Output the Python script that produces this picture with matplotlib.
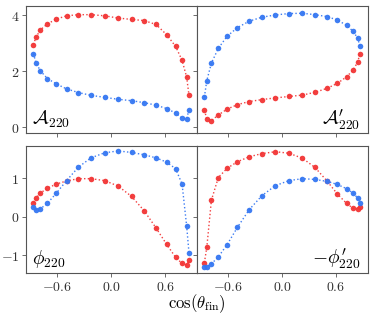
import matplotlib
matplotlib.use("Agg")
import matplotlib.pyplot as plt
from matplotlib.ticker import FuncFormatter

plt.rcParams['mathtext.fontset'] = 'cm'
plt.rcParams['font.family'] = 'DejaVu Serif'

# cos(theta_fin) sample points
cos_fin = [-0.864, -0.837, -0.786, -0.709, -0.611, -0.496, -0.364, -0.224, -0.074,
           0.076, 0.226, 0.366, 0.499, 0.615, 0.716, 0.788, 0.839, 0.865]

# amplitude A_220
amp_red = [2.95, 3.21, 3.48, 3.69, 3.86, 3.98, 4.02, 4.02, 3.98,
           3.90, 3.85, 3.81, 3.67, 3.31, 2.89, 2.39, 1.79, 1.14]
amp_blue = [2.63, 2.31, 2.01, 1.74, 1.55, 1.37, 1.24, 1.14, 1.07,
            1.00, 0.95, 0.88, 0.79, 0.67, 0.51, 0.33, 0.30, 0.63]

# amplitude A'_220
ampp_red = [0.61, 0.30, 0.24, 0.44, 0.65, 0.81, 0.92, 0.99, 1.05,
            1.10, 1.15, 1.25, 1.39, 1.57, 1.80, 2.04, 2.32, 2.62]
ampp_blue = [1.08, 1.67, 2.29, 2.82, 3.25, 3.56, 3.79, 3.93, 4.01,
             4.06, 4.07, 4.02, 3.95, 3.83, 3.64, 3.43, 3.19, 2.90]

# phase phi_220
phi_red = [0.36, 0.48, 0.62, 0.74, 0.85, 0.93, 0.99, 0.99, 0.94,
           0.80, 0.53, 0.16, -0.29, -0.71, -1.05, -1.21, -1.25, -1.13]
phi_blue = [0.26, 0.18, 0.21, 0.35, 0.61, 0.94, 1.29, 1.53, 1.66,
            1.71, 1.67, 1.61, 1.53, 1.42, 1.25, 0.85, -0.24, -0.94]

# phase -phi'_220
phip_red = [-1.19, -0.79, 0.43, 1.02, 1.26, 1.43, 1.56, 1.64, 1.69,
            1.65, 1.52, 1.28, 0.93, 0.59, 0.35, 0.22, 0.21, 0.26]
phip_blue = [-1.29, -1.29, -1.22, -1.04, -0.72, -0.27, 0.19, 0.55, 0.81,
             0.94, 0.99, 0.97, 0.92, 0.84, 0.73, 0.62, 0.49, 0.36]

red = '#f23535'
blue = '#3577f2'
spine_col = '#555555'

fig, axes = plt.subplots(2, 2, figsize=(3.74, 3.15), dpi=100, sharex=True, sharey='row')
fig.subplots_adjust(left=0.07, right=0.984, top=0.981, bottom=0.133, hspace=0.1, wspace=0)

panels = [
    (axes[0, 0], amp_red, amp_blue, r'$\mathcal{A}_{220}$', 'left'),
    (axes[0, 1], ampp_red, ampp_blue, r"$\mathcal{A}^{\prime}_{220}$", 'right'),
    (axes[1, 0], phi_red, phi_blue, r'$\phi_{220}$', 'left'),
    (axes[1, 1], phip_red, phip_blue, r"$-\phi^{\prime}_{220}$", 'right'),
]

math_fmt = FuncFormatter(lambda v, p: r'$%g$' % v if v == int(v) else r'$%.1f$' % v)
x_fmt = FuncFormatter(lambda v, p: r'$%.1f$' % v)

for ax, yr, yb, label, side in panels:
    ax.plot(cos_fin, yr, ':', color=red, lw=1.0, marker='o', ms=4, mec='none', alpha=0.95)
    ax.plot(cos_fin, yb, ':', color=blue, lw=1.0, marker='o', ms=4, mec='none', alpha=0.95)
    if side == 'left':
        ax.text(0.035, 0.07, label, transform=ax.transAxes, fontsize=14, ha='left', va='baseline')
    else:
        ax.text(0.955, 0.07, label, transform=ax.transAxes, fontsize=14, ha='right', va='baseline')
    for s in ax.spines.values():
        s.set_color(spine_col)
        s.set_linewidth(0.8)
    ax.tick_params(direction='out', length=3, width=0.6, color=spine_col,
                   labelsize=10, labelcolor='#333333', pad=2)
    ax.xaxis.set_major_formatter(x_fmt)
    ax.yaxis.set_major_formatter(math_fmt)

axes[0, 0].set_xlim(-0.945, 0.955)
axes[0, 0].set_xticks([-0.6, 0.0, 0.6])
axes[0, 0].set_ylim(-0.21, 4.33)
axes[0, 0].set_yticks([0, 2, 4])
axes[1, 0].set_ylim(-1.46, 1.84)
axes[1, 0].set_yticks([-1, 0, 1])

fig.text(0.527, 0.0, r'$\cos(\theta_{\rm fin})$', fontsize=12, ha='center', va='bottom')

fig.savefig('out.png', dpi=100)
